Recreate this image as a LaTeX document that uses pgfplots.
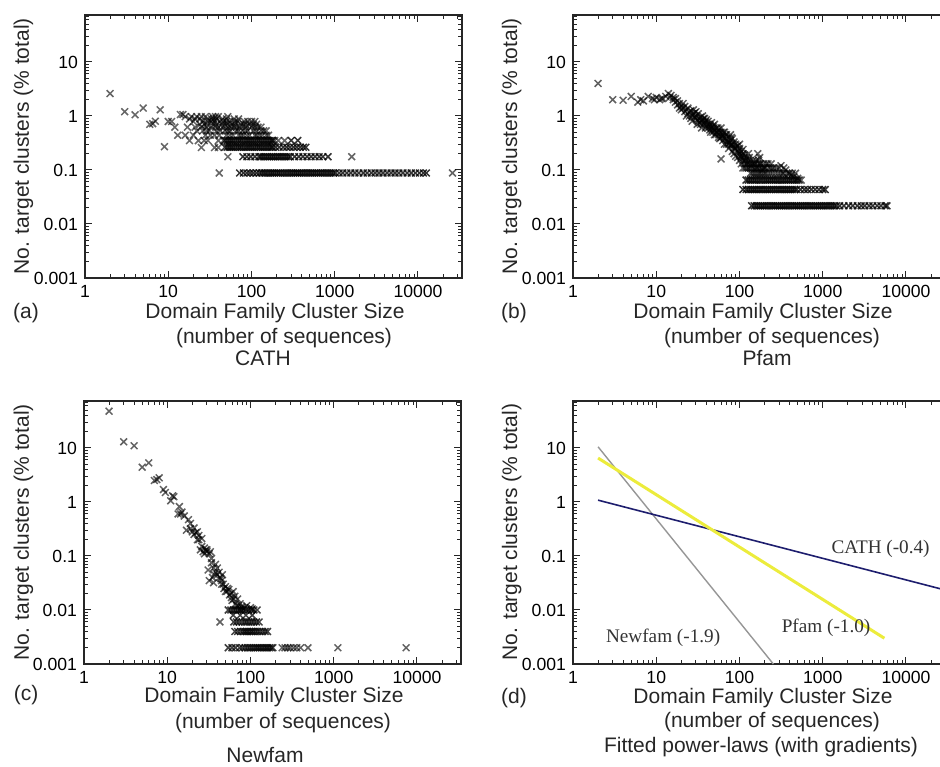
\documentclass[border=0pt]{standalone}
\usepackage{pgfplots}
\pgfplotsset{compat=1.18}
\usepackage{fontspec}
\setmainfont{Liberation Sans}
\newfontfamily\serifx{Liberation Serif}
\definecolor{cathblue}{RGB}{30,30,110}
\definecolor{pfamyellow}{RGB}{236,236,60}
\definecolor{newgray}{RGB}{150,150,150}
\newcommand{\lab}{\fontsize{10.5}{12}\selectfont}
\newcommand{\tlab}{\fontsize{8.8}{10}\selectfont}
\begin{document}
\begin{tikzpicture}
\useasboundingbox (0,0) rectangle (470pt,383pt);
% ---------------- (a) CATH
\begin{axis}[at={(42.5pt,244pt)}, anchor=south west,
  xmode=log, ymode=log, scale only axis, width=188.5pt, height=131.5pt,
  xmin=1, xmax=33800, ymin=0.001, ymax=74,
  xtick={1,10,100,1000,10000}, xticklabels={1,10,100,1000,10000},
  ytick={0.001,0.01,0.1,1,10}, yticklabels={0.001,0.01,0.1,1,10},
  minor xtick={2,3,4,5,6,7,8,9,20,30,40,50,60,70,80,90,200,300,400,500,600,700,800,900,2000,3000,4000,5000,6000,7000,8000,9000,20000,30000},
  minor ytick={0.002,0.003,0.004,0.005,0.006,0.007,0.008,0.009,0.02,0.03,0.04,0.05,0.06,0.07,0.08,0.09,0.2,0.3,0.4,0.5,0.6,0.7,0.8,0.9,2,3,4,5,6,7,8,9,20,30,40,50,60,70},
  tick label style={font=\tlab},
  major tick length=3.5pt, minor tick length=2pt,
  axis line style={line width=0.8pt, black!85},
  tick style={black!85, line width=0.5pt}]
\addplot[only marks, mark=x, mark size=2.4pt, mark options={draw=black, draw opacity=0.6, line width=0.75pt}] coordinates {(2,2.6)(3,1.2)(4,1.05)(5,1.4)(6,0.7)(6.5,0.72)(7,0.8)(8,1.3)(9,0.27)(10,0.79)(11,0.79)(12,0.62)(13,0.44)(14,1.06)(15,1.06)(16,0.97)(17,0.62)(18,0.88)(19,0.97)(20,0.44)(21,0.88)(22,0.97)(23,0.35)(24,0.7)(25,0.62)(26,0.53)(26,0.79)(27,0.35)(27,0.7)(28,0.97)(29,0.62)(30,0.79)(30,0.88)(31,0.53)(32,0.44)(33,0.88)(34,0.97)(35,0.7)(36,0.26)(36,0.79)(37,0.62)(38,0.88)(40,0.97)(41,0.44)(42,0.53)(42,0.79)(44,0.7)(45,0.62)(45,0.88)(46,0.35)(48,0.53)(48,0.7)(50,0.44)(50,0.79)(52,0.62)(55,0.53)(55,0.79)(58,0.7)(60,0.44)(62,0.62)(62,0.88)(65,0.53)(68,0.79)(70,0.44)(72,0.62)(75,0.7)(78,0.53)(80,0.44)(85,0.7)(90,0.53)(90,0.79)(95,0.7)(95,0.44)(100,0.79)(105,0.7)(110,0.44)(110,0.62)(115,0.53)(120,0.62)(125,0.44)(130,0.53)(140,0.53)(150,0.44)
(25,0.97)(37,0.97)(52,0.97)(24,0.88)(35,0.88)(50,0.88)(70,0.88)(20,0.79)(33,0.79)(46,0.79)(63,0.79)(82,0.79)(110,0.79)(29,0.7)(38,0.7)(52,0.7)(64,0.7)(80,0.7)(115,0.7)(21,0.62)(33,0.62)(40,0.62)(56,0.62)(66,0.62)(85,0.62)(100,0.62)(130,0.62)(22,0.53)(29,0.53)(38,0.53)(52,0.53)(70,0.53)(85,0.53)(105,0.53)(150,0.53)(16,0.44)(28,0.44)(36,0.44)(55,0.44)(75,0.44)(88,0.44)(115,0.44)(135,0.44)(160,0.44)(18,0.35)(30,0.35)(40,0.35)(190,0.35)(210,0.35)(250,0.35)(25,0.26)(40,0.26)(52,0.176)(1600,0.176)(41,0.088)(26000,0.088)};
\addplot[only marks, mark=x, mark size=2.4pt, mark options={draw=black, draw opacity=0.8, line width=0.75pt}] coordinates {(48,0.352)(51,0.352)(54,0.352)(57,0.352)(60,0.352)(64,0.352)(68,0.352)(72,0.352)(76,0.352)(81,0.352)(86,0.352)(91,0.352)(96,0.352)(102,0.352)(108,0.352)(115,0.352)(122,0.352)(129,0.352)(137,0.352)(145,0.352)(154,0.352)(163,0.352)(173,0.352)(180,0.352)(300,0.352)(360,0.352)
(48,0.264)(51,0.264)(54,0.264)(57,0.264)(60,0.264)(64,0.264)(68,0.264)(72,0.264)(76,0.264)(81,0.264)(86,0.264)(91,0.264)(96,0.264)(102,0.264)(108,0.264)(115,0.264)(122,0.264)(129,0.264)(137,0.264)(145,0.264)(154,0.264)(163,0.264)(173,0.264)(180,0.264)(195,0.264)(215,0.264)(240,0.264)(265,0.264)(290,0.264)(320,0.264)(350,0.264)(385,0.264)(420,0.264)(450,0.264)
(79,0.176)(88,0.176)(98,0.176)(110,0.176)(123,0.176)(130,0.176)(138,0.176)(146,0.176)(155,0.176)(164,0.176)(174,0.176)(184,0.176)(195,0.176)(207,0.176)(219,0.176)(232,0.176)(246,0.176)(261,0.176)(277,0.176)(293,0.176)(330,0.176)(370,0.176)(415,0.176)(465,0.176)(520,0.176)(580,0.176)(650,0.176)(720,0.176)(830,0.176)
(72,0.088)(80,0.088)(88,0.088)(96,0.088)(105,0.088)(115,0.088)(125,0.088)(133,0.088)(141,0.088)(149,0.088)(158,0.088)(168,0.088)(178,0.088)(188,0.088)(200,0.088)(212,0.088)(224,0.088)(238,0.088)(252,0.088)(267,0.088)(283,0.088)(300,0.088)(318,0.088)(337,0.088)(357,0.088)(379,0.088)(401,0.088)(425,0.088)(451,0.088)(478,0.088)(507,0.088)(537,0.088)(569,0.088)(603,0.088)(640,0.088)(678,0.088)(719,0.088)(762,0.088)(808,0.088)(856,0.088)(907,0.088)(962,0.088)(1020,0.088)(1130,0.088)(1250,0.088)(1400,0.088)(1560,0.088)(1750,0.088)(1950,0.088)(2200,0.088)(2450,0.088)(2750,0.088)(3050,0.088)(3400,0.088)(3800,0.088)(4250,0.088)(4750,0.088)(5300,0.088)(5900,0.088)(6600,0.088)(7400,0.088)(8300,0.088)(9300,0.088)(10400,0.088)(11600,0.088)(12600,0.088)};
\end{axis}
% ---------------- (b) Pfam
\begin{axis}[at={(286.5pt,244pt)}, anchor=south west,
  xmode=log, ymode=log, scale only axis, width=188.5pt, height=131.5pt,
  xmin=1, xmax=33800, ymin=0.001, ymax=74,
  xtick={1,10,100,1000,10000}, xticklabels={1,10,100,1000,10000},
  ytick={0.001,0.01,0.1,1,10}, yticklabels={0.001,0.01,0.1,1,10},
  minor xtick={2,3,4,5,6,7,8,9,20,30,40,50,60,70,80,90,200,300,400,500,600,700,800,900,2000,3000,4000,5000,6000,7000,8000,9000,20000,30000},
  minor ytick={0.002,0.003,0.004,0.005,0.006,0.007,0.008,0.009,0.02,0.03,0.04,0.05,0.06,0.07,0.08,0.09,0.2,0.3,0.4,0.5,0.6,0.7,0.8,0.9,2,3,4,5,6,7,8,9,20,30,40,50,60,70},
  tick label style={font=\tlab},
  major tick length=3.5pt, minor tick length=2pt,
  axis line style={line width=0.8pt, black!85},
  tick style={black!85, line width=0.5pt}]
\addplot[only marks, mark=x, mark size=2.4pt, mark options={draw=black, draw opacity=0.62, line width=0.75pt}] coordinates {(2,4.0)(3,2.0)(4,1.95)(5,2.3)(6,1.8)(6.5,2.0)(7,1.9)(8,2.3)(9,2.1)(9.5,2.0)(10,2.2)(11,2.0)(11.5,2.1)(12,2.1)(13,2.3)(14,2.6)(14.5,2.2)(15,2.4)(16,2.0)(17,1.8)(18,1.6)(19,1.7)(20,1.5)(20,1.3)(22,1.5)(22,1.2)(24,1.4)(24,1.1)(26,1.25)(26,0.9)(28,1.1)(28,1.3)(30,0.9)(30,1.0)(30,1.2)(32,0.8)(32,1.1)(34,0.95)(34,0.7)(36,0.85)(36,1.0)(38,0.75)(38,0.9)(40,0.65)(40,0.85)(42,0.8)(42,0.6)(44,0.7)(44,0.55)(46,0.75)(46,0.6)(48,0.5)(48,0.65)(50,0.55)(50,0.45)(50,0.7)(53,0.5)(53,0.6)(56,0.45)(56,0.55)(56,0.4)(60,0.5)(60,0.4)(60,0.6)(60,0.16)(63,0.45)(63,0.35)(66,0.4)(66,0.5)(66,0.3)(70,0.45)(70,0.35)(70,0.3)(74,0.4)(74,0.3)(74,0.25)(78,0.35)(78,0.45)(78,0.28)(82,0.3)(82,0.22)(82,0.38)(86,0.33)(86,0.26)(86,0.2)(90,0.3)(90,0.24)(90,0.18)(95,0.28)(95,0.22)(95,0.17)(100,0.25)(100,0.2)(100,0.15)(100,0.3)(105,0.22)(105,0.17)(105,0.13)(110,0.2)(110,0.15)(110,0.24)(110,0.109)(116,0.19)(116,0.13)(116,0.15)(116,0.109)(122,0.17)(122,0.13)(122,0.109)(128,0.2)(128,0.15)(128,0.109)(135,0.13)(135,0.109)(135,0.087)(135,0.15)(142,0.109)(142,0.13)(142,0.087)(150,0.109)(150,0.13)(150,0.087)(158,0.109)(158,0.087)(158,0.15)(166,0.2)(166,0.13)(166,0.109)(166,0.087)(175,0.109)(175,0.13)(175,0.087)(175,0.17)(185,0.087)(185,0.109)(195,0.13)(195,0.087)(195,0.109)(205,0.087)(205,0.109)(220,0.087)(220,0.13)(235,0.109)(235,0.087)(250,0.087)(250,0.109)(270,0.087)(290,0.087)(315,0.12)(310,0.087)(340,0.087)(340,0.109)(370,0.087)(400,0.087)(430,0.087)(470,0.087)(550,0.065)
(16,2.2)(17,2.1)(18,1.9)(19,1.4)(21,1.4)(21,1.7)(23,1.3)(23,1.0)(25,1.2)(25,1.0)(27,1.0)(27,0.8)(29,0.95)(29,1.15)(31,0.85)(31,0.7)(33,0.9)(33,0.75)(35,0.8)(35,0.6)(37,0.7)(37,0.9)(39,0.6)(39,0.8)(41,0.7)(43,0.65)(45,0.5)(45,0.65)(47,0.55)(49,0.6)(52,0.45)(54,0.5)(55,0.6)(58,0.5)(58,0.38)(62,0.42)(64,0.5)(68,0.38)(68,0.45)(72,0.33)(76,0.32)(80,0.3)(80,0.4)(84,0.28)(88,0.25)(92,0.27)(98,0.22)(102,0.18)(108,0.19)(113,0.17)(119,0.15)(125,0.13)(131,0.17)(138,0.12)(146,0.15)(154,0.13)(162,0.11)(170,0.15)(180,0.13)(190,0.1)(200,0.11)(210,0.13)(225,0.11)(240,0.13)(260,0.109)(280,0.109)(300,0.109)(330,0.087)(360,0.1)(390,0.087)(420,0.08)(450,0.075)(500,0.07)};
\addplot[only marks, mark=x, mark size=2.4pt, mark options={draw=black, draw opacity=0.8, line width=0.75pt}] coordinates {(120,0.065)(127,0.065)(135,0.065)(143,0.065)(152,0.065)(161,0.065)(171,0.065)(181,0.065)(192,0.065)(204,0.065)(216,0.065)(229,0.065)(243,0.065)(257,0.065)(273,0.065)(289,0.065)(306,0.065)(325,0.065)(344,0.065)(365,0.065)(387,0.065)(410,0.065)(435,0.065)(461,0.065)(489,0.065)(520,0.065)
(110,0.0434)(120,0.0434)(128,0.0434)(136,0.0434)(144,0.0434)(152,0.0434)(161,0.0434)(171,0.0434)(181,0.0434)(192,0.0434)(204,0.0434)(216,0.0434)(229,0.0434)(243,0.0434)(257,0.0434)(273,0.0434)(289,0.0434)(306,0.0434)(325,0.0434)(344,0.0434)(365,0.0434)(387,0.0434)(410,0.0434)(435,0.0434)(461,0.0434)(489,0.0434)(540,0.0434)(600,0.0434)(660,0.0434)(730,0.0434)(810,0.0434)(900,0.0434)(1000,0.0434)(1070,0.0434)
(140,0.0217)(150,0.0217)(159,0.0217)(169,0.0217)(179,0.0217)(190,0.0217)(201,0.0217)(213,0.0217)(226,0.0217)(240,0.0217)(254,0.0217)(269,0.0217)(285,0.0217)(302,0.0217)(320,0.0217)(340,0.0217)(360,0.0217)(382,0.0217)(405,0.0217)(429,0.0217)(455,0.0217)(482,0.0217)(511,0.0217)(542,0.0217)(574,0.0217)(609,0.0217)(645,0.0217)(684,0.0217)(725,0.0217)(769,0.0217)(815,0.0217)(864,0.0217)(916,0.0217)(971,0.0217)(1029,0.0217)(1091,0.0217)(1156,0.0217)(1226,0.0217)(1299,0.0217)(1377,0.0217)(1460,0.0217)(1600,0.0217)(1800,0.0217)(2050,0.0217)(2300,0.0217)(2600,0.0217)(2900,0.0217)(3200,0.0217)(3600,0.0217)(4000,0.0217)(4500,0.0217)(5000,0.0217)(5600,0.0217)(5900,0.0217)};
\end{axis}
% ---------------- (c) Newfam
\begin{axis}[at={(42pt,51pt)}, anchor=south west,
  xmode=log, ymode=log, scale only axis, width=188.5pt, height=131.5pt,
  xmin=1, xmax=33800, ymin=0.001, ymax=74,
  xtick={1,10,100,1000,10000}, xticklabels={1,10,100,1000,10000},
  ytick={0.001,0.01,0.1,1,10}, yticklabels={0.001,0.01,0.1,1,10},
  minor xtick={2,3,4,5,6,7,8,9,20,30,40,50,60,70,80,90,200,300,400,500,600,700,800,900,2000,3000,4000,5000,6000,7000,8000,9000,20000,30000},
  minor ytick={0.002,0.003,0.004,0.005,0.006,0.007,0.008,0.009,0.02,0.03,0.04,0.05,0.06,0.07,0.08,0.09,0.2,0.3,0.4,0.5,0.6,0.7,0.8,0.9,2,3,4,5,6,7,8,9,20,30,40,50,60,70},
  tick label style={font=\tlab},
  major tick length=3.5pt, minor tick length=2pt,
  axis line style={line width=0.8pt, black!85},
  tick style={black!85, line width=0.5pt}]
\addplot[only marks, mark=x, mark size=2.4pt, mark options={draw=black, draw opacity=0.62, line width=0.75pt}] coordinates {(2,48)(3,13)(4,11)(5,4.4)(6,5.3)(7,2.5)(7.5,2.6)(8,2.8)(9,1.7)(9.5,1.5)(11,1.05)(11.6,1.3)(12,1.25)(13.5,0.6)(14,0.82)(14.5,0.6)(15,0.65)(16,0.55)(17,0.3)(18,0.47)(19,0.32)(20,0.28)(21,0.25)(22,0.27)(23,0.2)(24,0.24)(25,0.13)(26,0.21)(27,0.12)(28,0.14)(29,0.13)(30,0.12)(31,0.055)(32,0.035)(33,0.12)(34,0.09)(35,0.04)(36,0.032)(37,0.045)(38,0.07)(40,0.06)(42,0.05)(44,0.038)(45,0.03)(46,0.045)(48,0.025)(50,0.027)(52,0.022)(55,0.024)(58,0.02)(60,0.015)(62,0.022)(65,0.018)(68,0.012)(70,0.016)(75,0.013)(80,0.011)(90,0.012)(100,0.011)(105,0.0105)
(19,0.4)(21,0.33)(23,0.28)(24,0.2)(26,0.15)(28,0.11)(30,0.13)(32,0.11)(34,0.075)(36,0.06)(38,0.05)(40,0.045)(43,0.04)(45,0.035)(47,0.03)(50,0.022)(53,0.025)(56,0.019)(59,0.017)(63,0.016)(66,0.013)(72,0.012)(78,0.0115)(85,0.011)(43,0.006)(240,0.002)(260,0.002)(280,0.002)(300,0.002)(330,0.002)(360,0.002)(400,0.002)(490,0.002)(1120,0.002)(7400,0.002)};
\addplot[only marks, mark=x, mark size=2.4pt, mark options={draw=black, draw opacity=0.75, line width=0.75pt}] coordinates {(54,0.01)(58,0.01)(62,0.01)(66,0.01)(70,0.01)(74,0.01)(78,0.01)(82,0.01)(88,0.01)(95,0.01)(102,0.01)(110,0.01)(120,0.01)(62,0.008)(75,0.008)(88,0.008)(105,0.008)
(63,0.006)(68,0.006)(73,0.006)(79,0.006)(85,0.006)(90,0.006)(96,0.006)(103,0.006)(110,0.006)(118,0.006)(127,0.006)
(65,0.004)(70,0.004)(76,0.004)(81,0.004)(85,0.004)(89,0.004)(93,0.004)(98,0.004)(103,0.004)(108,0.004)(115,0.004)(122,0.004)(130,0.004)(140,0.004)(150,0.004)(160,0.004)
(54,0.002)(60,0.002)(66,0.002)(74,0.002)(80,0.002)(86,0.002)(92,0.002)(98,0.002)(104,0.002)(110,0.002)(116,0.002)(122,0.002)(128,0.002)(134,0.002)(141,0.002)(148,0.002)(155,0.002)(162,0.002)(170,0.002)(178,0.002)(186,0.002)};
\end{axis}
% ---------------- (d) fitted power laws
\begin{axis}[at={(286.5pt,51pt)}, anchor=south west,
  xmode=log, ymode=log, scale only axis, width=188.5pt, height=131.5pt,
  xmin=1, xmax=33800, ymin=0.001, ymax=74,
  xtick={1,10,100,1000,10000}, xticklabels={1,10,100,1000,10000},
  ytick={0.001,0.01,0.1,1,10}, yticklabels={0.001,0.01,0.1,1,10},
  minor xtick={2,3,4,5,6,7,8,9,20,30,40,50,60,70,80,90,200,300,400,500,600,700,800,900,2000,3000,4000,5000,6000,7000,8000,9000,20000,30000},
  minor ytick={0.002,0.003,0.004,0.005,0.006,0.007,0.008,0.009,0.02,0.03,0.04,0.05,0.06,0.07,0.08,0.09,0.2,0.3,0.4,0.5,0.6,0.7,0.8,0.9,2,3,4,5,6,7,8,9,20,30,40,50,60,70},
  tick label style={font=\tlab},
  major tick length=3.5pt, minor tick length=2pt,
  axis line style={line width=0.8pt, black!85},
  tick style={black!85, line width=0.5pt}]
\addplot[newgray, line width=0.7pt] coordinates {(2,10.5)(255,0.001)};
\addplot[cathblue, line width=0.8pt] coordinates {(2,1.08)(33800,0.0222)};
\addplot[pfamyellow, line width=1.5pt] coordinates {(2,6.5)(5500,0.003)};
\node[font=\serifx\fontsize{9.6}{11}\selectfont, text=black!80] at (axis cs:4950,0.136) {CATH (-0.4)};
\node[font=\serifx\fontsize{9.6}{11}\selectfont, text=black!80] at (axis cs:1096,0.0047) {Pfam (-1.0)};
\node[font=\serifx\fontsize{9.6}{11}\selectfont, text=black!80] at (axis cs:12.1,0.0031) {Newfam (-1.9)};
\end{axis}
% ---------------- texts
\begin{scope}[every node/.style={inner sep=0pt, font=\lab, text=black!85}]
\node at (13pt,226.5pt) {(a)};
\node at (257pt,226.5pt) {(b)};
\node at (13pt,35.5pt) {(c)};
\node at (257pt,34pt) {(d)};
\node at (137.5pt,226.5pt) {Domain Family Cluster Size};
\node at (142pt,214pt) {(number of sequences)};
\node at (131.5pt,204pt) {CATH};
\node at (381.5pt,226.5pt) {Domain Family Cluster Size};
\node at (386pt,214pt) {(number of sequences)};
\node at (383.5pt,204pt) {Pfam};
\node at (137pt,34.5pt) {Domain Family Cluster Size};
\node at (141.5pt,21.5pt) {(number of sequences)};
\node at (132.5pt,5.5pt) {Newfam};
\node at (381.5pt,34pt) {Domain Family Cluster Size};
\node at (386pt,22pt) {(number of sequences)};
\node at (380.5pt,9.5pt) {Fitted power-laws (with gradients)};
\node[rotate=90] at (11.7pt,309.8pt) {No. target clusters (\% total)};
\node[rotate=90] at (255.8pt,309.8pt) {No. target clusters (\% total)};
\node[rotate=90] at (11.7pt,116.8pt) {No. target clusters (\% total)};
\node[rotate=90] at (255.8pt,117pt) {No. target clusters (\% total)};
\end{scope}
\end{tikzpicture}
\end{document}
